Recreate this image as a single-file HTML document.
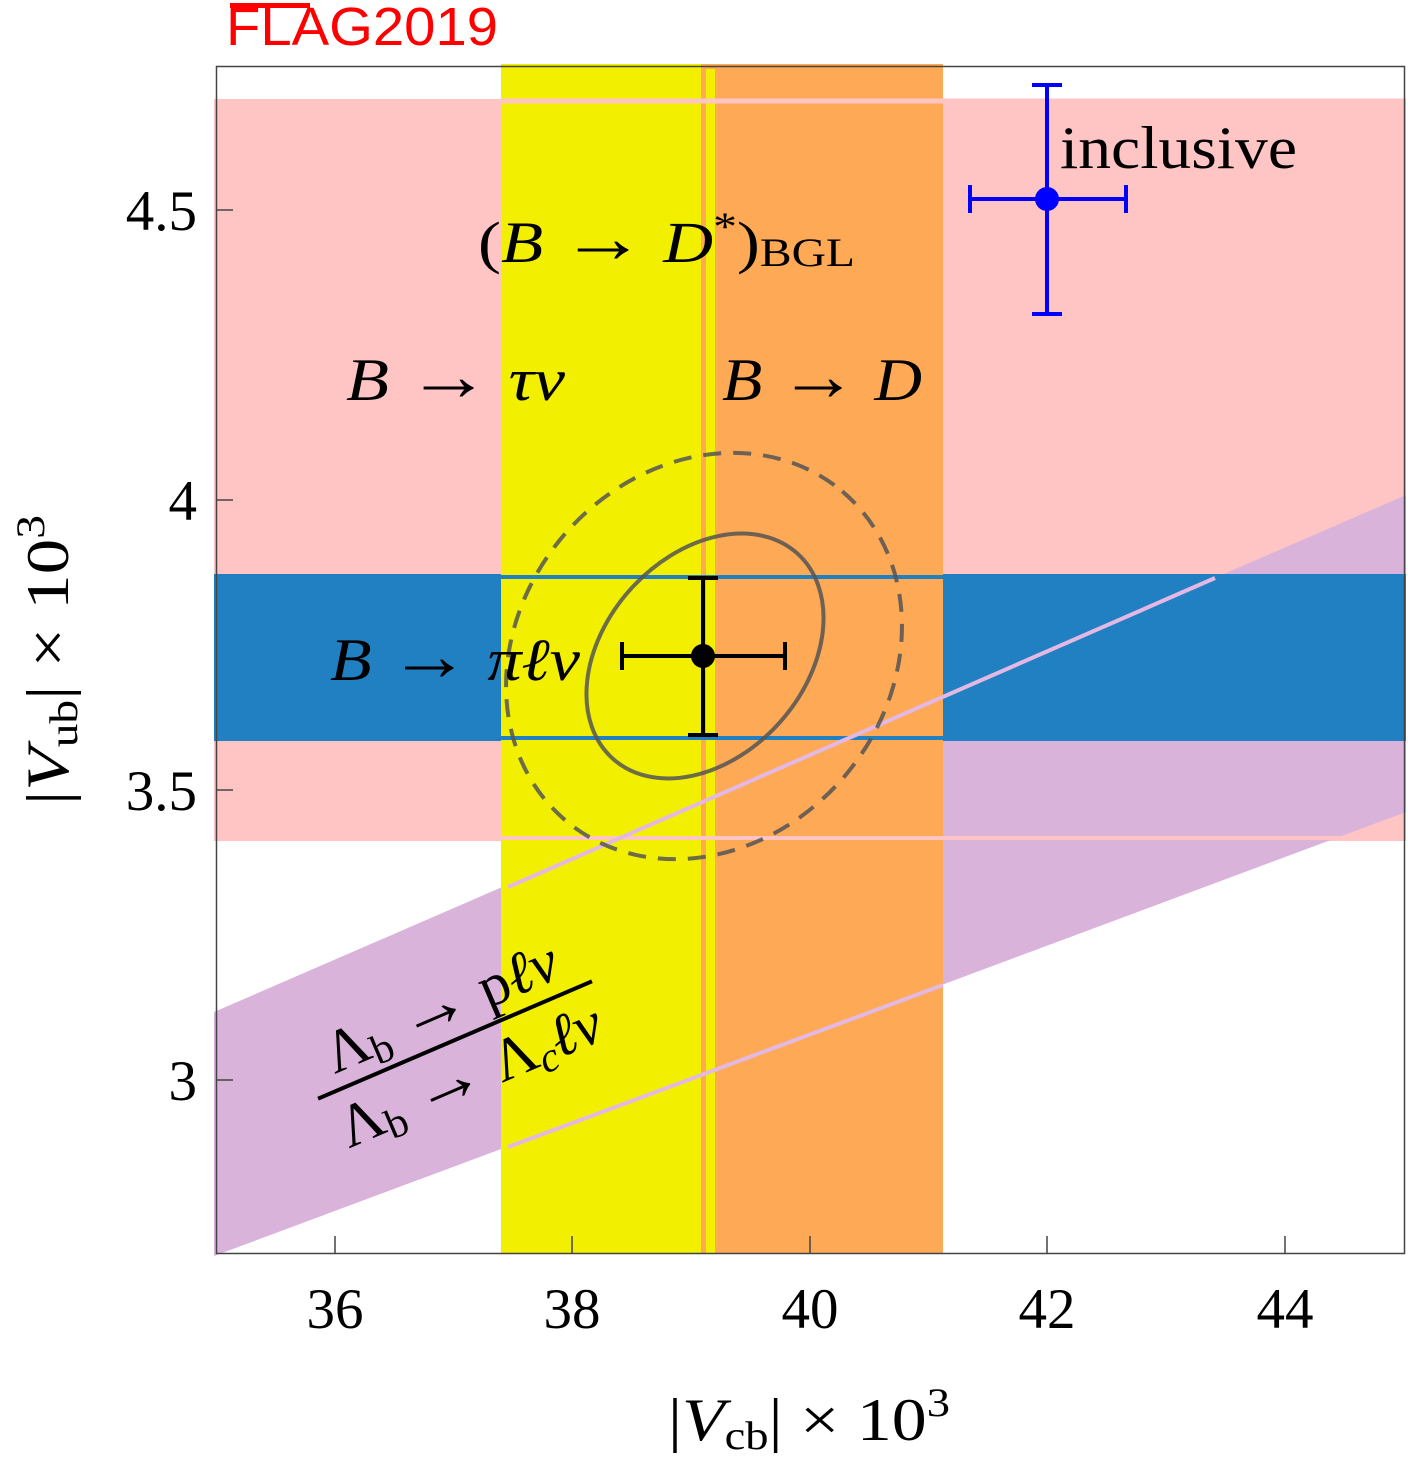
<!DOCTYPE html>
<html><head><meta charset="utf-8"><style>
html,body{margin:0;padding:0;background:#fff;}
svg{display:block;}
text{font-family:"Liberation Serif",serif;fill:#000;}
</style></head><body>
<svg width="1408" height="1458" viewBox="0 0 1408 1458" xmlns="http://www.w3.org/2000/svg">
<!-- title -->
<text x="226" y="45" textLength="272" lengthAdjust="spacingAndGlyphs" style="font-family:'Liberation Sans',sans-serif;font-size:54px;fill:#f00">FLAG2019</text>
<rect x="230" y="3" width="80" height="5" fill="#f00"/>
<!-- pink band -->
<rect x="214" y="99" width="1192" height="742" fill="#fec5c4"/>
<!-- purple band -->
<polygon points="214,1012 1406,495 1406,812 214,1256" fill="#dab3db"/>
<!-- blue band -->
<rect x="214" y="574" width="1192" height="167" fill="#2180c2"/>
<!-- columns -->
<rect x="501" y="64" width="201" height="1190" fill="#f2f000"/>
<rect x="701" y="64" width="242" height="1190" fill="#fea955"/>
<rect x="706" y="69" width="9" height="1185" fill="#f2f000"/>
<!-- lines in columns -->
<line x1="501" y1="101" x2="1406" y2="101" stroke="#fec5c4" stroke-width="5"/>
<line x1="501" y1="838" x2="1406" y2="838" stroke="#fec5c4" stroke-width="4"/>
<line x1="501" y1="577" x2="943" y2="577" stroke="#2180c2" stroke-width="4"/>
<line x1="501" y1="738" x2="943" y2="738" stroke="#2180c2" stroke-width="4"/>
<line x1="508" y1="887" x2="1215" y2="578" stroke="#e3b8e3" stroke-width="4"/>
<line x1="508" y1="1147" x2="943" y2="985" stroke="#e3b8e3" stroke-width="4"/>
<!-- ellipses -->
<ellipse cx="705" cy="656" rx="138" ry="100" transform="rotate(-48 705 656)" fill="none" stroke="#555" stroke-opacity="0.85" stroke-width="4"/>
<ellipse cx="704" cy="656" rx="215" ry="185" transform="rotate(-50 704 656)" fill="none" stroke="#555" stroke-opacity="0.85" stroke-width="4" stroke-dasharray="18,12"/>
<!-- frame -->
<rect x="216.5" y="66.5" width="1188" height="1187" fill="none" stroke="#444" stroke-width="1.5"/>
<!-- ticks -->
<g stroke="#444" stroke-width="1.5">
<line x1="216" y1="210" x2="233" y2="210"/><line x1="216" y1="500" x2="233" y2="500"/>
<line x1="216" y1="790" x2="233" y2="790"/><line x1="216" y1="1080" x2="233" y2="1080"/>
<line x1="335" y1="1253" x2="335" y2="1236"/><line x1="572" y1="1253" x2="572" y2="1236"/>
<line x1="810" y1="1253" x2="810" y2="1236"/><line x1="1047" y1="1253" x2="1047" y2="1236"/>
<line x1="1285" y1="1253" x2="1285" y2="1236"/>
</g>
<!-- tick labels -->
<g style="font-size:57px" text-anchor="end">
<text x="197" y="230">4.5</text><text x="197" y="520">4</text>
<text x="197" y="810">3.5</text><text x="197" y="1100">3</text>
</g>
<g style="font-size:57px" text-anchor="middle">
<text x="335" y="1328">36</text><text x="572" y="1328">38</text>
<text x="810" y="1328">40</text><text x="1047" y="1328">42</text><text x="1285" y="1328">44</text>
</g>
<!-- axis labels -->
<text x="668" y="1440" textLength="282" lengthAdjust="spacingAndGlyphs" style="font-size:60px">|<tspan font-style="italic">V</tspan><tspan font-size="40" dy="9">cb</tspan><tspan dy="-9">| × 10</tspan><tspan font-size="40" dy="-24">3</tspan></text>
<text transform="translate(68,805) rotate(-90)" textLength="290" lengthAdjust="spacingAndGlyphs" style="font-size:60px">|<tspan font-style="italic">V</tspan><tspan font-size="40" dy="9">ub</tspan><tspan dy="-9">| × 10</tspan><tspan font-size="40" dy="-24">3</tspan></text>
<!-- band labels -->
<text x="478" y="262" textLength="377" lengthAdjust="spacingAndGlyphs" style="font-size:58px">(<tspan font-style="italic">B</tspan> <tspan font-size="72">→</tspan> <tspan font-style="italic">D</tspan><tspan font-size="40" dy="-22">*</tspan><tspan dy="22">)</tspan><tspan font-size="40" dy="4">BGL</tspan></text>
<text x="346" y="400" textLength="219" lengthAdjust="spacingAndGlyphs" style="font-size:60px;font-style:italic">B <tspan font-style="normal" font-size="72">→</tspan> τν</text>
<text x="722" y="400" textLength="200" lengthAdjust="spacingAndGlyphs" style="font-size:60px;font-style:italic">B <tspan font-style="normal" font-size="72">→</tspan> D</text>
<text x="330" y="680" textLength="250" lengthAdjust="spacingAndGlyphs" style="font-size:60px;font-style:italic">B <tspan font-style="normal" font-size="72">→</tspan> πℓν</text>
<text x="1060" y="168" textLength="237" lengthAdjust="spacingAndGlyphs" style="font-size:60px">inclusive</text>
<!-- fraction -->
<g transform="rotate(-23.2 455 1040)">
<text x="455" y="1024" text-anchor="middle" style="font-size:60px">Λ<tspan font-size="42" dy="9">b</tspan><tspan dy="-9"> </tspan><tspan font-size="72">→</tspan> p<tspan font-style="italic">ℓν</tspan></text>
<line x1="306" y1="1040" x2="604" y2="1040" stroke="#000" stroke-width="4"/>
<text x="455" y="1098" text-anchor="middle" style="font-size:60px">Λ<tspan font-size="42" dy="9">b</tspan><tspan dy="-9"> </tspan><tspan font-size="72">→</tspan> Λ<tspan font-size="42" dy="9" font-style="italic">c</tspan><tspan dy="-9" font-style="italic">ℓν</tspan></text>
</g>
<!-- error bars -->
<g stroke="#000" stroke-width="4">
<line x1="622" y1="656" x2="785" y2="656"/><line x1="622" y1="642" x2="622" y2="670"/><line x1="785" y1="642" x2="785" y2="670"/>
<line x1="703" y1="578" x2="703" y2="735"/><line x1="688" y1="578" x2="718" y2="578"/><line x1="688" y1="735" x2="718" y2="735"/>
</g>
<circle cx="703" cy="656" r="12" fill="#000"/>
<g stroke="#00f" stroke-width="4">
<line x1="970" y1="199" x2="1126" y2="199"/><line x1="970" y1="185" x2="970" y2="213"/><line x1="1126" y1="185" x2="1126" y2="213"/>
<line x1="1047" y1="85" x2="1047" y2="314"/><line x1="1032" y1="85" x2="1062" y2="85"/><line x1="1032" y1="314" x2="1062" y2="314"/>
</g>
<circle cx="1047" cy="199" r="12" fill="#00f"/>
</svg>
</body></html>
